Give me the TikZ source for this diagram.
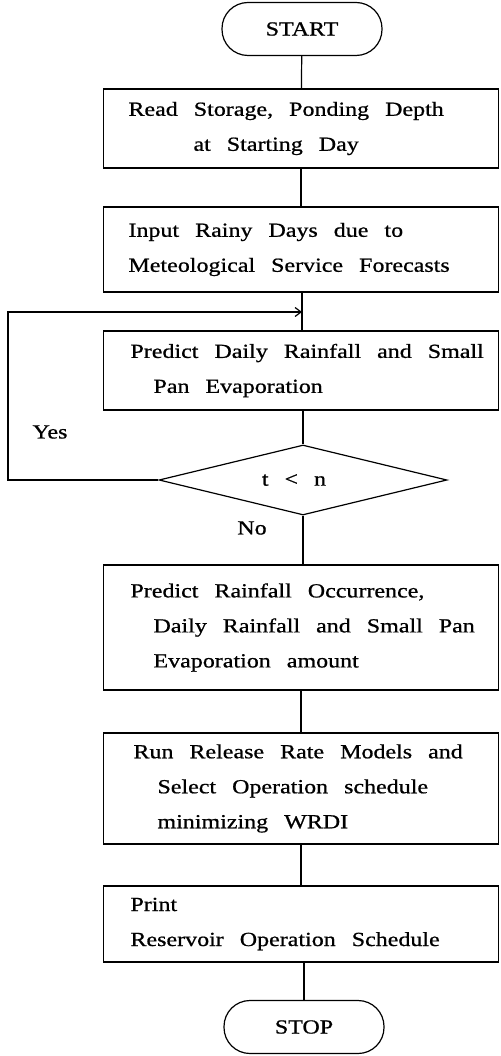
\documentclass[tikz,border=0pt]{standalone}
\usepackage{fontspec}
\setmainfont[FakeStretch=1.2,FakeBold=0.8]{Liberation Serif}
\usetikzlibrary{
  positioning,
  shapes.geometric,
  arrows.meta,
  calc
}

\newcommand{\indline}[1]{\hspace*{#1pt}}

\begin{document}
\begin{tikzpicture}[x=1pt,y=-1pt,
  every node/.style={font=\fontsize{20}{35}\selectfont,
    execute at begin node={\spaceskip=16pt\relax}},
  procbox/.style={draw,line width=1.2pt,minimum width=395pt,text width=385pt,
    inner xsep=5pt,align=left},
  termbox/.style={draw,line width=1.2pt,rounded corners=26pt,
    minimum width=160pt,minimum height=53pt},
  decbox/.style={draw,line width=1.2pt,diamond,aspect=4,inner sep=0pt,
    minimum width=288pt,minimum height=70pt},
  flow/.style={line width=1.2pt}]
  \useasboundingbox (0,0) rectangle (500,1056);

  % 端子
  \node[termbox] (start) at (302,29) {START};
  \node[termbox] (stop) at (304,1027) {STOP};

  % 処理ボックス
  \node[procbox,minimum height=79pt] (read) at (301,128.5)
    {\indline{20}Read Storage, Ponding Depth\\
     \indline{85}at Starting Day};
  \node[procbox,minimum height=85pt] (input) at (301,249.5)
    {\indline{20}Input Rainy Days due to\\
     \indline{20}Meteological Service Forecasts};
  \node[procbox,minimum height=79pt] (daily) at (301,370.5)
    {\indline{22}Predict Daily Rainfall and Small\\
     \indline{45}Pan Evaporation};
  \node[procbox,minimum height=125pt] (occur) at (301,627.5)
    {\indline{22}Predict Rainfall Occurrence,\\
     \indline{45}Daily Rainfall and Small Pan\\
     \indline{45}Evaporation amount};
  \node[procbox,minimum height=111pt] (release) at (301,788.5)
    {\indline{25}Run Release Rate Models and\\
     \indline{49}Select Operation schedule\\
     \indline{49}minimizing WRDI};
  \node[procbox,minimum height=76pt] (print) at (301,924)
    {\indline{22}Print\\
     \indline{22}Reservoir Operation Schedule};

  % 判断
  \node[decbox] (check) at (303,480) {t < n\hspace*{18pt}};
  \node (yes) at (50,432) {Yes};
  \node (no) at (252,528) {No};

  % 合流点
  \coordinate (join) at (302,312);
  \coordinate (corner) at (8,312);

  % 流れ線
  \draw[flow] (start) -- (read);
  \draw[flow] (read) -- (input);
  \draw[flow] (input.south -| join) -- (join) -- (daily.north -| join);
  \draw[flow] (daily.south -| check) -- (check);
  \draw[flow] (check) -- (occur.north -| check);
  \draw[flow] (occur) -- (release);
  \draw[flow] (release) -- (print);
  \draw[flow] (print.south -| stop) -- (stop);
  \draw[flow,-{Straight Barb[length=6pt,width=9pt]}]
    (check.west) -| (corner) -- (join);
\end{tikzpicture}
\end{document}
